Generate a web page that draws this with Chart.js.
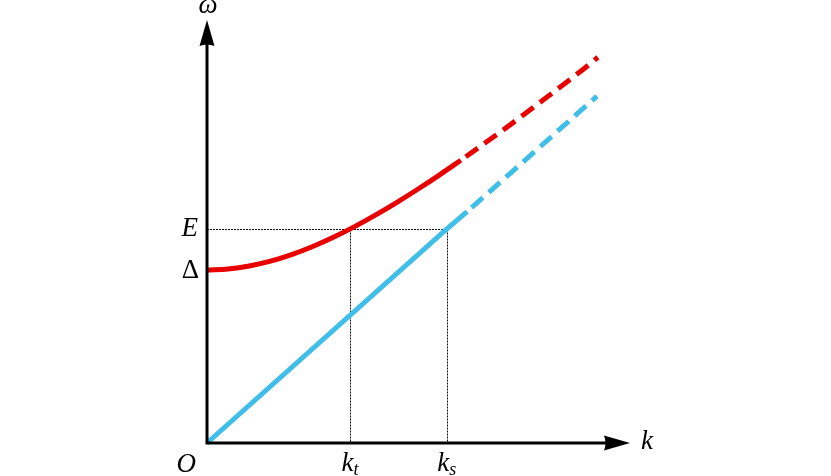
<!DOCTYPE html>
<html>
<head>
<meta charset="utf-8">
<script src="https://cdn.jsdelivr.net/npm/chart.js@4/dist/chart.umd.min.js"></script>
<style>
html,body{margin:0;padding:0;background:#fff;}
#wrap{position:relative;width:831px;height:476px;}
canvas{display:block;}
</style>
</head>
<body>
<div id="wrap"><canvas id="c" width="831" height="476"></canvas></div>
<script>
// Red branch (gapped dispersion)
const redSolidK = [0, 0.5, 1, 1.5, 2, 2.5, 3, 3.5, 4, 4.5, 5, 5.5, 6.0];
const redSolidW = [4.09, 4.114, 4.184, 4.298, 4.453, 4.645, 4.870, 5.122, 5.399, 5.696, 6.011, 6.340, 6.683];
const redDashK  = [6.0, 6.5, 7, 7.5, 8, 8.5, 9, 9.24];
const redDashW  = [6.683, 7.04, 7.40, 7.77, 8.15, 8.53, 8.92, 9.12];
// Blue branch (linear)
const blueSolidK = [0, 5.67, 6.15];
const blueSolidW = [0, 5.06, 5.47];
const blueDashK  = [6.15, 9.22];
const blueDashW  = [5.47, 8.20];
// Marked levels
const levelNames = ['E', 'Δ'];
const levelValues = [5.06, 4.09];
const tickNames = ['k_t', 'k_s'];
const tickValues = [3.38, 5.67];
const axisMax = 10;

const RED = 'rgb(232,0,0)';
const BLUE = 'rgb(62,190,232)';

function pts(xs, ys){ return xs.map((x,i)=>({x:x, y:ys[i]})); }

const SERIF = '"Liberation Serif", "DejaVu Serif", serif';

const overlay = {
  id: 'overlay',
  beforeDatasetsDraw(chart){
    const ctx = chart.ctx, xs = chart.scales.x, ys = chart.scales.y;
    const x0 = xs.getPixelForValue(0), y0 = ys.getPixelForValue(0);
    ctx.save();
    ctx.strokeStyle = '#111';
    ctx.lineWidth = 1;
    ctx.setLineDash([2,1]);
    const eY = Math.round(ys.getPixelForValue(levelValues[0])) + 0.5;
    ctx.beginPath();
    ctx.moveTo(x0, eY); ctx.lineTo(Math.round(xs.getPixelForValue(tickValues[1])) + 0.5, eY);
    tickValues.forEach(v=>{
      const px = Math.round(xs.getPixelForValue(v)) + 0.5;
      ctx.moveTo(px, eY); ctx.lineTo(px, y0);
    });
    ctx.stroke();
    ctx.restore();
  },
  afterDatasetsDraw(chart){
    const ctx = chart.ctx, xs = chart.scales.x, ys = chart.scales.y;
    const x0 = xs.getPixelForValue(0), y0 = ys.getPixelForValue(0);
    const xEnd = xs.getPixelForValue(axisMax), yEnd = ys.getPixelForValue(axisMax);
    ctx.save();
    ctx.strokeStyle = '#000';
    ctx.fillStyle = '#000';
    ctx.lineWidth = 3;
    ctx.setLineDash([]);
    ctx.beginPath();
    ctx.moveTo(x0, y0 + 1.5); ctx.lineTo(x0, yEnd + 20);
    ctx.moveTo(x0 - 1.5, y0); ctx.lineTo(xEnd - 20, y0);
    ctx.stroke();
    ctx.beginPath();
    ctx.moveTo(x0, yEnd);
    ctx.lineTo(x0 + 7.5, yEnd + 26);
    ctx.quadraticCurveTo(x0, yEnd + 23, x0 - 7.5, yEnd + 26);
    ctx.closePath();
    ctx.fill();
    ctx.beginPath();
    ctx.moveTo(xEnd, y0);
    ctx.lineTo(xEnd - 26, y0 - 7.5);
    ctx.quadraticCurveTo(xEnd - 23, y0, xEnd - 26, y0 + 7.5);
    ctx.closePath();
    ctx.fill();

    const it = 'italic 27px ' + SERIF;
    const up = '27px ' + SERIF;
    const sm = 'italic 18px ' + SERIF;
    ctx.textBaseline = 'middle';
    ctx.textAlign = 'center';
    ctx.font = it;
    ctx.fillText('ω', x0 + 1, 6);
    ctx.textAlign = 'left';
    ctx.fillText('k', xEnd + 11, y0 - 1);
    ctx.textAlign = 'right';
    ctx.fillText('O', x0 - 11, y0 + 22);
    ctx.fillText(levelNames[0], x0 - 9, ys.getPixelForValue(levelValues[0]));
    ctx.font = up;
    ctx.fillText(levelNames[1], x0 - 8, ys.getPixelForValue(levelValues[1]) + 1);
    tickNames.forEach((n, i)=>{
      const px = xs.getPixelForValue(tickValues[i]);
      const [base, sub] = n.split('_');
      ctx.font = it;
      const bw = ctx.measureText(base).width;
      ctx.font = sm;
      const sw = ctx.measureText(sub).width;
      const left = px - (bw + sw) / 2;
      ctx.textAlign = 'left';
      ctx.font = it;
      ctx.fillText(base, left, y0 + 21);
      ctx.font = sm;
      ctx.fillText(sub, left + bw, y0 + 27);
    });
    ctx.restore();
  }
};

new Chart(document.getElementById('c'), {
  type: 'scatter',
  data: {
    datasets: [
      { data: pts(redSolidK, redSolidW), borderColor: RED, borderWidth: 5, showLine: true, pointRadius: 0, cubicInterpolationMode: 'monotone', borderCapStyle: 'butt' },
      { data: pts(redDashK, redDashW), borderColor: RED, borderWidth: 5, showLine: true, pointRadius: 0, cubicInterpolationMode: 'monotone', borderDash: [15, 8], borderDashOffset: -6, borderCapStyle: 'butt' },
      { data: pts(blueSolidK, blueSolidW), borderColor: BLUE, borderWidth: 5, showLine: true, pointRadius: 0, borderCapStyle: 'butt' },
      { data: pts(blueDashK, blueDashW), borderColor: BLUE, borderWidth: 5, showLine: true, pointRadius: 0, borderDash: [15, 8], borderDashOffset: -6, borderCapStyle: 'butt' }
    ]
  },
  options: {
    responsive: false,
    animation: false,
    events: [],
    layout: { padding: { left: 207, right: 201, top: 20, bottom: 33 } },
    plugins: { legend: { display: false }, tooltip: { enabled: false } },
    scales: {
      x: { type: 'linear', min: 0, max: axisMax, display: false },
      y: { type: 'linear', min: 0, max: axisMax, display: false }
    },
    elements: { line: { fill: false } },
    clip: false
  },
  plugins: [overlay]
});
</script>
</body>
</html>
